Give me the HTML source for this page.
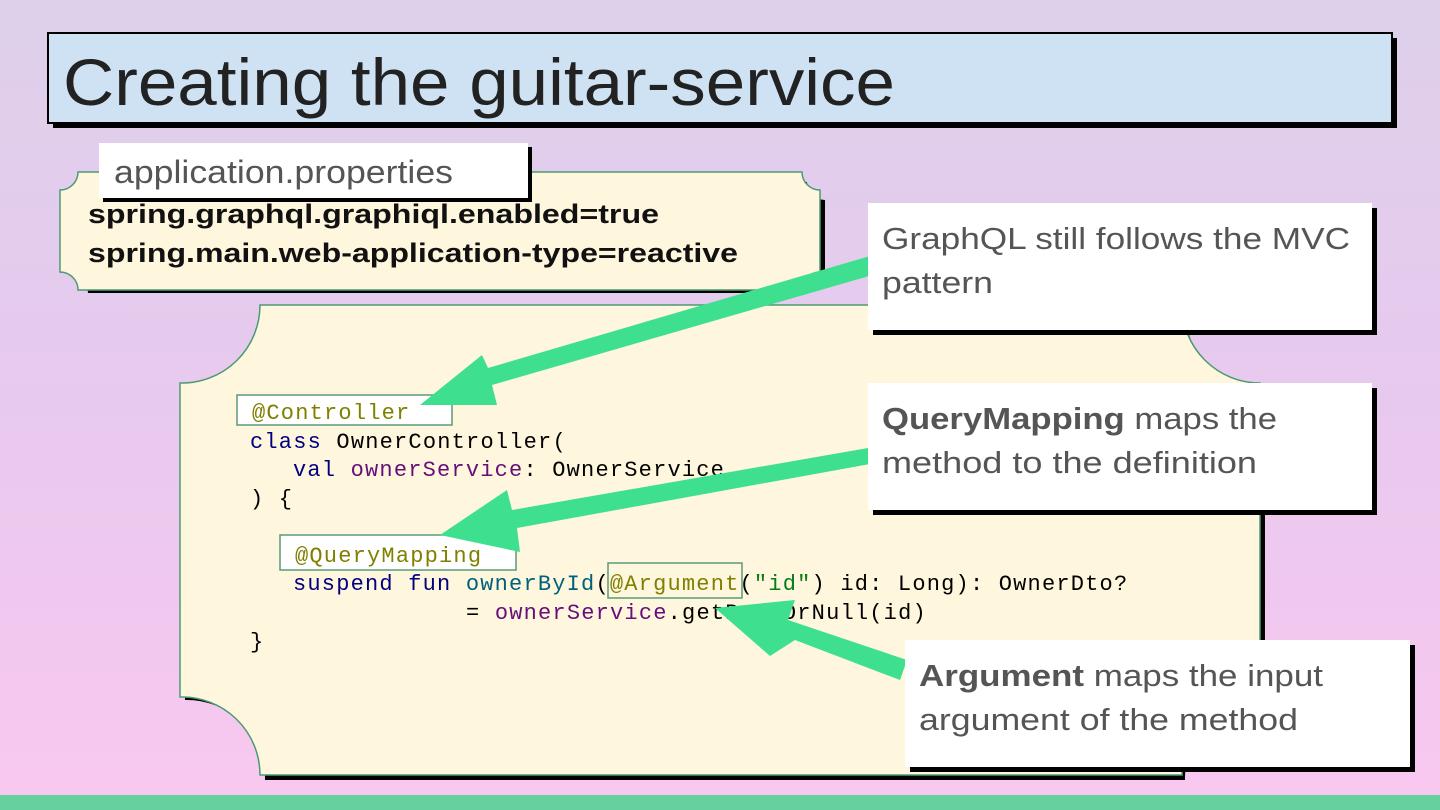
<!DOCTYPE html>
<html><head><meta charset="utf-8"><style>
html,body{margin:0;padding:0}
body{width:1440px;height:810px;overflow:hidden;background:linear-gradient(180deg,#ddd0ea 0%,#e8c9ee 50%,#f9c8f0 100%);position:relative;font-family:"Liberation Sans",sans-serif}
svg{position:absolute;left:0;top:0}
.code{font-family:"Liberation Mono",monospace;font-size:22px;letter-spacing:1.2px}
.t{font-family:"Liberation Sans",sans-serif}
</style></head><body>
<svg width="1440" height="810" viewBox="0 0 1440 810">
<rect x="53" y="38" width="1344" height="90" fill="#000"/>
<rect x="48" y="33" width="1344" height="90" fill="#cfe2f3" stroke="#000" stroke-width="2"/>
<text x="63" y="105" class="t" font-size="66" fill="#222" textLength="832" lengthAdjust="spacingAndGlyphs">Creating the guitar-service</text>

<path d="M83,177 H802 A18,18 0 0 0 820,195 V270 A18,18 0 0 0 802,288 H83 A18,18 0 0 0 65,270 V195 A18,18 0 0 0 83,177Z" fill="#000" transform="translate(5,5)"/>
<path d="M78,172 H802 A18,18 0 0 0 820,190 V272 A18,18 0 0 0 802,290 H78 A18,18 0 0 0 60,272 V190 A18,18 0 0 0 78,172Z" fill="#fef6dd" stroke="#4a9a74" stroke-width="1.5"/>
<rect x="103" y="147" width="429" height="55" fill="#000"/>
<rect x="99" y="143" width="429" height="55" fill="#fff"/>
<text x="114" y="183" class="t" font-size="32" fill="#555" textLength="339" lengthAdjust="spacingAndGlyphs">application.properties</text>
<text x="88" y="223" class="t" font-size="27" font-weight="bold" fill="#111" textLength="571" lengthAdjust="spacingAndGlyphs">spring.graphql.graphiql.enabled=true</text>
<text x="88" y="262" class="t" font-size="27" font-weight="bold" fill="#111" textLength="650" lengthAdjust="spacingAndGlyphs">spring.main.web-application-type=reactive</text>

<path d="M265,310 H1185 A78,78 0 0 0 1265,388 V700 A78,78 0 0 0 1185,780 H265 A78,78 0 0 0 185,700 V388 A78,78 0 0 0 265,310Z" fill="#000"/>
<path d="M260,305 H1182 A78,78 0 0 0 1260,383 V697 A78,78 0 0 0 1182,775 H260 A78,78 0 0 0 180,697 V383 A78,78 0 0 0 260,305Z" fill="#fef6dd" stroke="#4a9a74" stroke-width="1.5"/>

<g class="code">
<rect x="237" y="395" width="215" height="30" fill="#fff" stroke="#5a9a7a" stroke-width="1.5"/>
<rect x="280" y="535" width="236" height="35" fill="#fff" stroke="#5a9a7a" stroke-width="1.5"/>
<rect x="608" y="563" width="134" height="35" fill="none" stroke="#5a9a7a" stroke-width="1.5"/>
<text x="252" y="419" fill="#808000">@Controller</text>
<text x="250" y="448"><tspan fill="#000080">class</tspan><tspan fill="#000"> OwnerController(</tspan></text>
<text x="293" y="476"><tspan fill="#000080">val</tspan><tspan fill="#660e7a"> ownerService</tspan><tspan fill="#000">: OwnerService</tspan></text>
<text x="250" y="505" fill="#000">) {</text>
<text x="295" y="562" fill="#808000">@QueryMapping</text>
<text x="293" y="590"><tspan fill="#000080">suspend fun</tspan><tspan fill="#00627a"> ownerById</tspan><tspan fill="#000">(</tspan><tspan fill="#808000">@Argument</tspan><tspan fill="#000">(</tspan><tspan fill="#067d17">"id"</tspan><tspan fill="#000">) id: Long): OwnerDto?</tspan></text>
<text x="466" y="619"><tspan fill="#000">= </tspan><tspan fill="#660e7a">ownerService</tspan><tspan fill="#000">.getByIdOrNull(id)</tspan></text>
<text x="250" y="648" fill="#000">}</text>
</g>

<g fill="#3ee08f">
<polygon points="870,256 876,274 492,385 497,405 420,405 482,355 488,368"/>
<polygon points="868,448 870,464 517,528 520,552 440,535 507,490 512,510"/>
<polygon points="907,660 900,680 795,640 770,656 715,608 795,600 788,620"/>
</g>

<g class="t">
<rect x="873" y="208" width="504" height="127" fill="#000"/>
<rect x="868" y="203" width="504" height="127" fill="#fff"/>
<text x="882" y="249" font-size="31" fill="#555" textLength="468" lengthAdjust="spacingAndGlyphs">GraphQL still follows the MVC</text>
<text x="882" y="293" font-size="31" fill="#555" textLength="111" lengthAdjust="spacingAndGlyphs">pattern</text>

<rect x="873" y="388" width="504" height="127" fill="#000"/>
<rect x="868" y="383" width="504" height="127" fill="#fff"/>
<text x="882" y="429" font-size="31" fill="#555" textLength="395" lengthAdjust="spacingAndGlyphs"><tspan font-weight="bold">QueryMapping</tspan> maps the</text>
<text x="882" y="473" font-size="31" fill="#555" textLength="375" lengthAdjust="spacingAndGlyphs">method to the definition</text>

<rect x="910" y="645" width="505" height="127" fill="#000"/>
<rect x="905" y="640" width="505" height="127" fill="#fff"/>
<text x="919" y="686" font-size="31" fill="#555" textLength="404" lengthAdjust="spacingAndGlyphs"><tspan font-weight="bold">Argument</tspan> maps the input</text>
<text x="919" y="730" font-size="31" fill="#555" textLength="379" lengthAdjust="spacingAndGlyphs">argument of the method</text>
</g>

<rect x="0" y="795" width="1440" height="15" fill="#66d19e"/>
</svg>
</body></html>
